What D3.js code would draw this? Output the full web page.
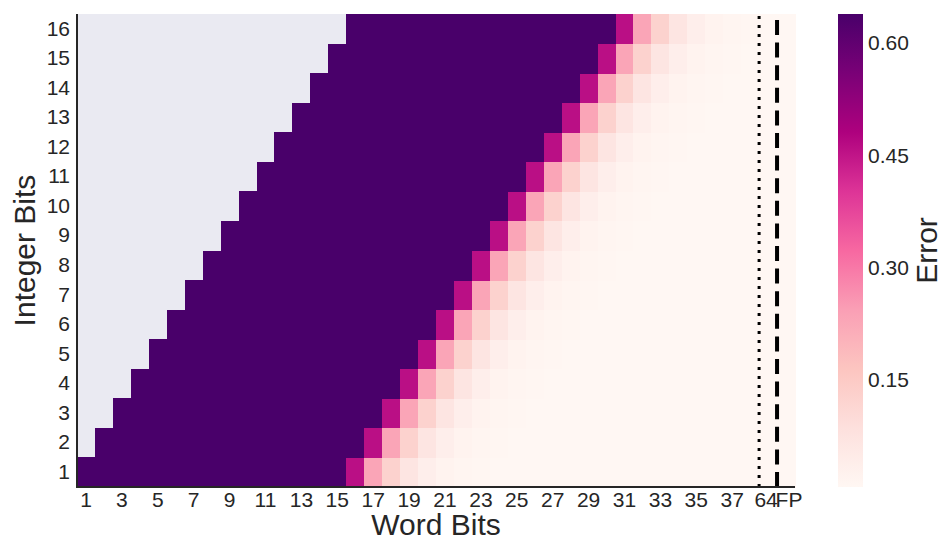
<!DOCTYPE html>
<html>
<head>
<meta charset="utf-8">
<script src="https://cdn.jsdelivr.net/npm/d3@7"></script>
<style>
  html, body { margin: 0; padding: 0; background: #ffffff; }
  svg { display: block; font-family: "Liberation Sans", Arial, sans-serif; }
</style>
</head>
<body>
<svg id="chart" width="945" height="542"></svg>
<script>
// Word-bit columns (the last two are the 64-bit fixed point and floating-point references)
const wordBits = ["1","2","3","4","5","6","7","8","9","10","11","12","13","14","15","16","17","18","19",
  "20","21","22","23","24","25","26","27","28","29","30","31","32","33","34","35","36","37","38","64","FP"];
// Integer-bit rows
const integerBits = ["1","2","3","4","5","6","7","8","9","10","11","12","13","14","15","16"];
// Tick labels shown on the x axis
const xTickLabels = ["1","3","5","7","9","11","13","15","17","19","21","23","25","27","29","31","33","35","37","64","FP"];
// Colorbar ticks
const colorTicks = [0.15, 0.30, 0.45, 0.60];
// Colour range of the error scale
const errorRange = [0.007, 0.639];

// Error per (integer bits, word bits); null where word bits < integer bits
const errorRow1  = [0.639,0.639,0.639,0.639,0.639,0.639,0.639,0.639,0.639,0.639,0.639,0.639,0.639,0.639,0.639,0.46,0.232,0.128,0.068,0.037,0.021,0.013,0.010,0.0085,0.0074,0.0072,0.0071,0.0070,0.0070,0.0070,0.0070,0.0070,0.0070,0.0070,0.0070,0.0070,0.0070,0.0070,0.007,0.007];
const errorRow2  = [null,0.639,0.639,0.639,0.639,0.639,0.639,0.639,0.639,0.639,0.639,0.639,0.639,0.639,0.639,0.639,0.46,0.232,0.128,0.068,0.037,0.021,0.013,0.010,0.0085,0.0074,0.0072,0.0071,0.0070,0.0070,0.0070,0.0070,0.0070,0.0070,0.0070,0.0070,0.0070,0.0070,0.007,0.007];
const errorRow3  = [null,null,0.639,0.639,0.639,0.639,0.639,0.639,0.639,0.639,0.639,0.639,0.639,0.639,0.639,0.639,0.639,0.46,0.232,0.128,0.068,0.037,0.021,0.013,0.010,0.0085,0.0074,0.0072,0.0071,0.0070,0.0070,0.0070,0.0070,0.0070,0.0070,0.0070,0.0070,0.0070,0.007,0.007];
const errorRow4  = [null,null,null,0.639,0.639,0.639,0.639,0.639,0.639,0.639,0.639,0.639,0.639,0.639,0.639,0.639,0.639,0.639,0.46,0.232,0.128,0.068,0.037,0.021,0.013,0.010,0.0085,0.0074,0.0072,0.0071,0.0070,0.0070,0.0070,0.0070,0.0070,0.0070,0.0070,0.0070,0.007,0.007];
const errorRow5  = [null,null,null,null,0.639,0.639,0.639,0.639,0.639,0.639,0.639,0.639,0.639,0.639,0.639,0.639,0.639,0.639,0.639,0.46,0.232,0.128,0.068,0.037,0.021,0.013,0.010,0.0085,0.0074,0.0072,0.0071,0.0070,0.0070,0.0070,0.0070,0.0070,0.0070,0.0070,0.007,0.007];
const errorRow6  = [null,null,null,null,null,0.639,0.639,0.639,0.639,0.639,0.639,0.639,0.639,0.639,0.639,0.639,0.639,0.639,0.639,0.639,0.46,0.232,0.128,0.068,0.037,0.021,0.013,0.010,0.0085,0.0074,0.0072,0.0071,0.0070,0.0070,0.0070,0.0070,0.0070,0.0070,0.007,0.007];
const errorRow7  = [null,null,null,null,null,null,0.639,0.639,0.639,0.639,0.639,0.639,0.639,0.639,0.639,0.639,0.639,0.639,0.639,0.639,0.639,0.46,0.232,0.128,0.068,0.037,0.021,0.013,0.010,0.0085,0.0074,0.0072,0.0071,0.0070,0.0070,0.0070,0.0070,0.0070,0.007,0.007];
const errorRow8  = [null,null,null,null,null,null,null,0.639,0.639,0.639,0.639,0.639,0.639,0.639,0.639,0.639,0.639,0.639,0.639,0.639,0.639,0.639,0.46,0.232,0.128,0.068,0.037,0.021,0.013,0.010,0.0085,0.0074,0.0072,0.0071,0.0070,0.0070,0.0070,0.0070,0.007,0.007];
const errorRow9  = [null,null,null,null,null,null,null,null,0.639,0.639,0.639,0.639,0.639,0.639,0.639,0.639,0.639,0.639,0.639,0.639,0.639,0.639,0.639,0.46,0.232,0.128,0.068,0.037,0.021,0.013,0.010,0.0085,0.0074,0.0072,0.0071,0.0070,0.0070,0.0070,0.007,0.007];
const errorRow10 = [null,null,null,null,null,null,null,null,null,0.639,0.639,0.639,0.639,0.639,0.639,0.639,0.639,0.639,0.639,0.639,0.639,0.639,0.639,0.639,0.46,0.232,0.128,0.068,0.037,0.021,0.013,0.010,0.0085,0.0074,0.0072,0.0071,0.0070,0.0070,0.007,0.007];
const errorRow11 = [null,null,null,null,null,null,null,null,null,null,0.639,0.639,0.639,0.639,0.639,0.639,0.639,0.639,0.639,0.639,0.639,0.639,0.639,0.639,0.639,0.46,0.232,0.128,0.068,0.037,0.021,0.013,0.010,0.0085,0.0074,0.0072,0.0071,0.0070,0.007,0.007];
const errorRow12 = [null,null,null,null,null,null,null,null,null,null,null,0.639,0.639,0.639,0.639,0.639,0.639,0.639,0.639,0.639,0.639,0.639,0.639,0.639,0.639,0.639,0.46,0.232,0.128,0.068,0.037,0.021,0.013,0.010,0.0085,0.0074,0.0072,0.0071,0.007,0.007];
const errorRow13 = [null,null,null,null,null,null,null,null,null,null,null,null,0.639,0.639,0.639,0.639,0.639,0.639,0.639,0.639,0.639,0.639,0.639,0.639,0.639,0.639,0.639,0.46,0.232,0.128,0.068,0.037,0.021,0.013,0.010,0.0085,0.0074,0.0072,0.007,0.007];
const errorRow14 = [null,null,null,null,null,null,null,null,null,null,null,null,null,0.639,0.639,0.639,0.639,0.639,0.639,0.639,0.639,0.639,0.639,0.639,0.639,0.639,0.639,0.639,0.46,0.232,0.128,0.068,0.037,0.021,0.013,0.010,0.0085,0.0074,0.007,0.007];
const errorRow15 = [null,null,null,null,null,null,null,null,null,null,null,null,null,null,0.639,0.639,0.639,0.639,0.639,0.639,0.639,0.639,0.639,0.639,0.639,0.639,0.639,0.639,0.639,0.46,0.232,0.128,0.068,0.037,0.021,0.013,0.010,0.0085,0.007,0.007];
const errorRow16 = [null,null,null,null,null,null,null,null,null,null,null,null,null,null,null,0.639,0.639,0.639,0.639,0.639,0.639,0.639,0.639,0.639,0.639,0.639,0.639,0.639,0.639,0.639,0.46,0.232,0.128,0.068,0.037,0.021,0.013,0.010,0.007,0.007];

const errorRows = [errorRow1, errorRow2, errorRow3, errorRow4, errorRow5, errorRow6, errorRow7, errorRow8,
  errorRow9, errorRow10, errorRow11, errorRow12, errorRow13, errorRow14, errorRow15, errorRow16];

const svg = d3.select("#chart");
const plot = { left: 77, right: 795, top: 14, bottom: 487 };
const textColor = "#262626";
const tickFont = "21px";
const titleFont = "30px";

const x = d3.scaleBand().domain(wordBits).range([plot.left, plot.right]);
const y = d3.scaleBand().domain(integerBits.slice().reverse()).range([plot.top, plot.bottom]);

// RdPu, piecewise linear between its nine anchor colours
const rdpu = d3.schemeRdPu[9];
const stops = d3.range(rdpu.length).map(i => errorRange[0] + (errorRange[1] - errorRange[0]) * i / (rdpu.length - 1));
const color = d3.scaleLinear().domain(stops).range(rdpu).interpolate(d3.interpolateRgb).clamp(true);

// Masked area background
svg.append("rect")
  .attr("x", plot.left).attr("y", plot.top)
  .attr("width", plot.right - plot.left).attr("height", plot.bottom - plot.top)
  .attr("fill", "#eaeaf2");

const cells = [];
errorRows.forEach((row, r) => row.forEach((v, c) => {
  if (v !== null) cells.push({ ib: integerBits[r], wb: wordBits[c], v });
}));

svg.append("g").attr("shape-rendering", "crispEdges")
  .selectAll("rect").data(cells).join("rect")
  .attr("x", d => x(d.wb))
  .attr("y", d => y(d.ib))
  .attr("width", x.bandwidth() + 0.5)
  .attr("height", y.bandwidth() + 0.5)
  .attr("fill", d => color(d.v));

// Separators before the 64-bit and FP columns
svg.append("line")
  .attr("x1", x("64")).attr("x2", x("64"))
  .attr("y1", plot.bottom).attr("y2", plot.top)
  .attr("stroke", "#000").attr("stroke-width", 3)
  .attr("stroke-dasharray", "3,6");
svg.append("line")
  .attr("x1", x("FP")).attr("x2", x("FP"))
  .attr("y1", plot.bottom).attr("y2", plot.top)
  .attr("stroke", "#000").attr("stroke-width", 4)
  .attr("stroke-dasharray", "15,7.6");

// Axes
const xAxis = d3.axisBottom(x).tickValues(xTickLabels).tickSize(0).tickPadding(5);
const gx = svg.append("g").attr("transform", `translate(0,${plot.bottom})`).call(xAxis);
gx.select(".domain").remove();
gx.selectAll("text").attr("fill", textColor).style("font-size", tickFont).attr("font-family", null);
gx.selectAll(".tick").filter(d => d === "64").select("text").attr("dx", -2);
gx.selectAll(".tick").filter(d => d === "FP").select("text").attr("dx", 3);

const yAxis = d3.axisLeft(y).tickSize(0).tickPadding(7);
const gy = svg.append("g").attr("transform", `translate(${plot.left},0)`).call(yAxis);
gy.select(".domain").remove();
gy.selectAll("text").attr("fill", textColor).style("font-size", tickFont).attr("font-family", null);

// Spines
svg.append("line").attr("x1", plot.left).attr("x2", plot.left).attr("y1", plot.top).attr("y2", plot.bottom + 1)
  .attr("stroke", textColor).attr("stroke-width", 2);
svg.append("line").attr("x1", plot.left - 1).attr("x2", plot.right).attr("y1", plot.bottom).attr("y2", plot.bottom)
  .attr("stroke", textColor).attr("stroke-width", 2);

// Axis titles
svg.append("text").attr("x", (plot.left + plot.right) / 2).attr("y", 535)
  .attr("text-anchor", "middle").attr("fill", textColor).style("font-size", titleFont).text("Word Bits");
svg.append("text").attr("transform", `translate(35,${(plot.top + plot.bottom) / 2}) rotate(-90)`)
  .attr("text-anchor", "middle").attr("fill", textColor).style("font-size", titleFont).text("Integer Bits");

// Colorbar
const cb = { x: 838, w: 25 };
const cy = d3.scaleLinear().domain(errorRange).range([plot.bottom, plot.top]);
const defs = svg.append("defs");
const grad = defs.append("linearGradient").attr("id", "cbgrad")
  .attr("x1", 0).attr("x2", 0).attr("y1", 1).attr("y2", 0);
stops.forEach((s, i) => grad.append("stop")
  .attr("offset", (s - errorRange[0]) / (errorRange[1] - errorRange[0]))
  .attr("stop-color", rdpu[i]));
svg.append("rect").attr("x", cb.x).attr("y", plot.top).attr("width", cb.w).attr("height", plot.bottom - plot.top)
  .attr("fill", "url(#cbgrad)");

const cAxis = d3.axisRight(cy).tickValues(colorTicks).tickFormat(d3.format(".2f")).tickSize(0).tickPadding(5);
const gc = svg.append("g").attr("transform", `translate(${cb.x + cb.w},0)`).call(cAxis);
gc.select(".domain").remove();
gc.selectAll("text").attr("fill", textColor).style("font-size", tickFont).attr("font-family", null);

svg.append("text").attr("transform", `translate(937,${(plot.top + plot.bottom) / 2}) rotate(-90)`)
  .attr("text-anchor", "middle").attr("fill", textColor).style("font-size", titleFont).text("Error");
</script>
</body>
</html>
